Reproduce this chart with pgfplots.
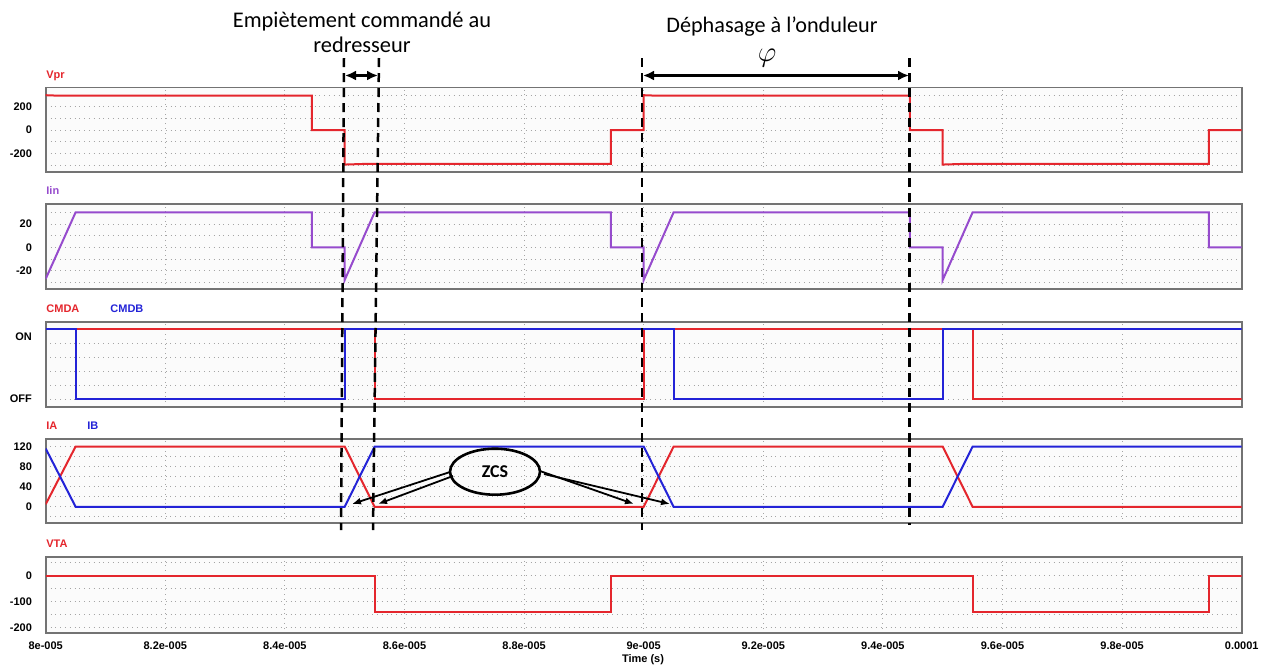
\documentclass[border=0pt]{standalone}
\usepackage{pgfplots}
\pgfplotsset{compat=1.18}
\usepackage{fontspec}
\setmainfont{Carlito}
\newfontfamily\arial{Liberation Sans}
\usetikzlibrary{arrows.meta}
\definecolor{cred}{RGB}{228,38,45}
\definecolor{cblue}{RGB}{35,35,215}
\definecolor{cpurp}{RGB}{150,75,205}
\definecolor{cframe}{RGB}{115,115,115}
\definecolor{cgrid}{RGB}{165,165,165}
\definecolor{cbg}{RGB}{251,251,251}
\newcommand\lab{\arial\bfseries\fontsize{5.5}{6}\selectfont}
\pgfplotsset{
  psim/.style={
    scale only axis, width=598pt, xmin=80, xmax=100,
    anchor=north west,
    axis background/.style={fill=cbg},
    axis line style={cframe, line width=0.9pt},
    major tick length=0pt,
    grid=major,
    major grid style={cgrid, dotted, line width=0.45pt},
    xtick={82,84,...,98},
    xticklabels={},
    tick label style={font=\lab},
    yticklabel style={anchor=east, inner sep=0pt, xshift=-6.7pt},
    /pgf/number format/assume math mode=true,
  }
}
\begin{document}
\begin{tikzpicture}
\path[use as bounding box] (0,0) rectangle (632.5pt,-333pt);

% Panel 1: Vpr
\begin{axis}[psim, at={(22.85pt,-43.75pt)}, height=42.25pt,
  ymin=-360, ymax=366, ytick={-300,-200,...,300}, yticklabels={,-200,,0,,200,}]
\addplot[cred, line width=1pt] coordinates {
(80,300) (80.2,296) (84.45,296) (84.45,0) (85,0) (85,-296) (85.3,-291) (89.45,-291) (89.45,0)
(90,0) (90,300) (90.2,296) (94.45,296) (94.45,0) (95,0) (95,-296) (95.3,-291) (99.45,-291) (99.45,0) (100,0)};
\end{axis}

% Panel 2: Iin
\begin{axis}[psim, at={(22.85pt,-102.15pt)}, height=42.35pt,
  ymin=-35.7, ymax=36.9, ytick={-30,-20,...,30}, yticklabels={,-20,,0,,20,}]
\addplot[cpurp, line width=1pt] coordinates {
(80,-27) (80.5,30) (84.45,30) (84.45,0) (85,0) (85,-28) (85.5,30) (89.45,30) (89.45,0)
(90,0) (90,-28) (90.5,30) (94.45,30) (94.45,0) (95,0) (95,-28) (95.5,30) (99.45,30) (99.45,0) (100,0)};
\end{axis}

% Panel 3: CMDA / CMDB
\begin{axis}[psim, at={(22.85pt,-161pt)}, height=42.35pt,
  ymin=-0.11, ymax=1.105, ytick={0,0.2,0.4,0.6,0.8,1}, yticklabels={OFF,,,,,},
  extra y ticks={0.9}, extra y tick labels={ON},
  extra y tick style={grid=none, major tick length=0pt}]
\addplot[cred, line width=1pt] coordinates {
(80,1) (85.5,1) (85.5,0) (90,0) (90,1) (95.5,1) (95.5,0) (100,0)};
\addplot[cblue, line width=1pt] coordinates {
(80,1) (80.5,1) (80.5,0) (85,0) (85,1) (90.5,1) (90.5,0) (95,0) (95,1) (100,1)};
\end{axis}

% Panel 4: IA / IB
\begin{axis}[psim, at={(22.85pt,-219.5pt)}, height=42.15pt,
  ymin=-33, ymax=135, ytick={-20,0,...,120}, yticklabels={,0,,40,,80,,120}]
\addplot[cred, line width=1pt] coordinates {
(80,5) (80.5,120) (85,120) (85.5,0) (90,0) (90.5,120) (95,120) (95.5,0) (100,0)};
\addplot[cblue, line width=1pt] coordinates {
(80,116) (80.5,0) (85,0) (85.5,120) (90,120) (90.5,0) (95,0) (95.5,120) (100,120)};
\end{axis}

% Panel 5: VTA
\begin{axis}[psim, at={(22.85pt,-278.35pt)}, height=38.3pt,
  ymin=-223, ymax=73.5, ytick={-200,-150,...,50}, yticklabels={-200,,-100,,0,},
  xtick={80,82,...,100},
  xticklabels={8e-005,8.2e-005,8.4e-005,8.6e-005,8.8e-005,9e-005,9.2e-005,9.4e-005,9.6e-005,9.8e-005,0.0001},
  xticklabel style={anchor=north, inner sep=0pt, yshift=-4.2pt}]
\addplot[cred, line width=1pt] coordinates {
(80,0) (85.5,0) (85.5,-142) (89.45,-142) (89.45,0) (95.5,0) (95.5,-142) (99.45,-142) (99.45,0) (100,0)};
\end{axis}

\begin{scope}[x=0.5pt, y=-0.5pt]
% panel titles
\node[anchor=base west, inner sep=0pt, text=cred, font=\lab] at (46,78) {Vpr};
\node[anchor=base west, inner sep=0pt, text=cpurp, font=\lab] at (46,194) {Iin};
\node[anchor=base west, inner sep=0pt, text=cred, font=\lab] at (46,312.5) {CMDA};
\node[anchor=base west, inner sep=0pt, text=cblue, font=\lab] at (110,312.5) {CMDB};
\node[anchor=base west, inner sep=0pt, text=cred, font=\lab] at (46,429.5) {IA};
\node[anchor=base west, inner sep=0pt, text=cblue, font=\lab] at (87,429.5) {IB};
\node[anchor=base west, inner sep=0pt, text=cred, font=\lab] at (46,547) {VTA};
\node[anchor=base, inner sep=0pt, font=\lab] at (643,662) {Time (s)};
% dashed markers
\begin{scope}[line width=1.25pt, dash pattern=on 4.5pt off 3pt]
\draw (344,58) -- (341,530);
\draw (379,58) -- (373,530);
\draw (642,58) -- (642,530);
\draw (909.5,58) -- (909.5,525);
\end{scope}
% double arrows
\draw[line width=1.2pt, {Latex[length=5.5pt,width=5pt]}-{Latex[length=5.5pt,width=5pt]}] (345,75.5) -- (378,75.5);
\draw[line width=1.1pt, {Latex[length=5.5pt,width=5pt]}-{Latex[length=5.5pt,width=5pt]}] (643,75.5) -- (909,75.5);
% texts
\node[anchor=base, inner sep=0pt, font=\fontsize{11.2}{13}\selectfont] at (362,27) {Empiètement commandé au};
\node[anchor=base, inner sep=0pt, font=\fontsize{11.2}{13}\selectfont] at (362,52) {redresseur};
\node[anchor=base, inner sep=0pt, font=\fontsize{11.1}{13}\selectfont] at (772,32) {Déphasage à l’onduleur};
\node[inner sep=0pt] at (767,58) {\fontsize{14}{16}\selectfont$\varphi$};
% ZCS
\draw[line width=1.3pt] (495,471.7) ellipse [x radius=45, y radius=23];
\node[inner sep=0pt, font=\bfseries\fontsize{9}{10}\selectfont] at (495,472) {ZCS};
\begin{scope}[line width=0.9pt, -{Latex[length=4.5pt,width=3.5pt]}]
\draw (450,472) -- (352,504);
\draw (453,476) -- (378,504);
\draw (540,471) -- (634,504);
\draw (544,474) -- (670,504);
\end{scope}
\end{scope}
\end{tikzpicture}
\end{document}
